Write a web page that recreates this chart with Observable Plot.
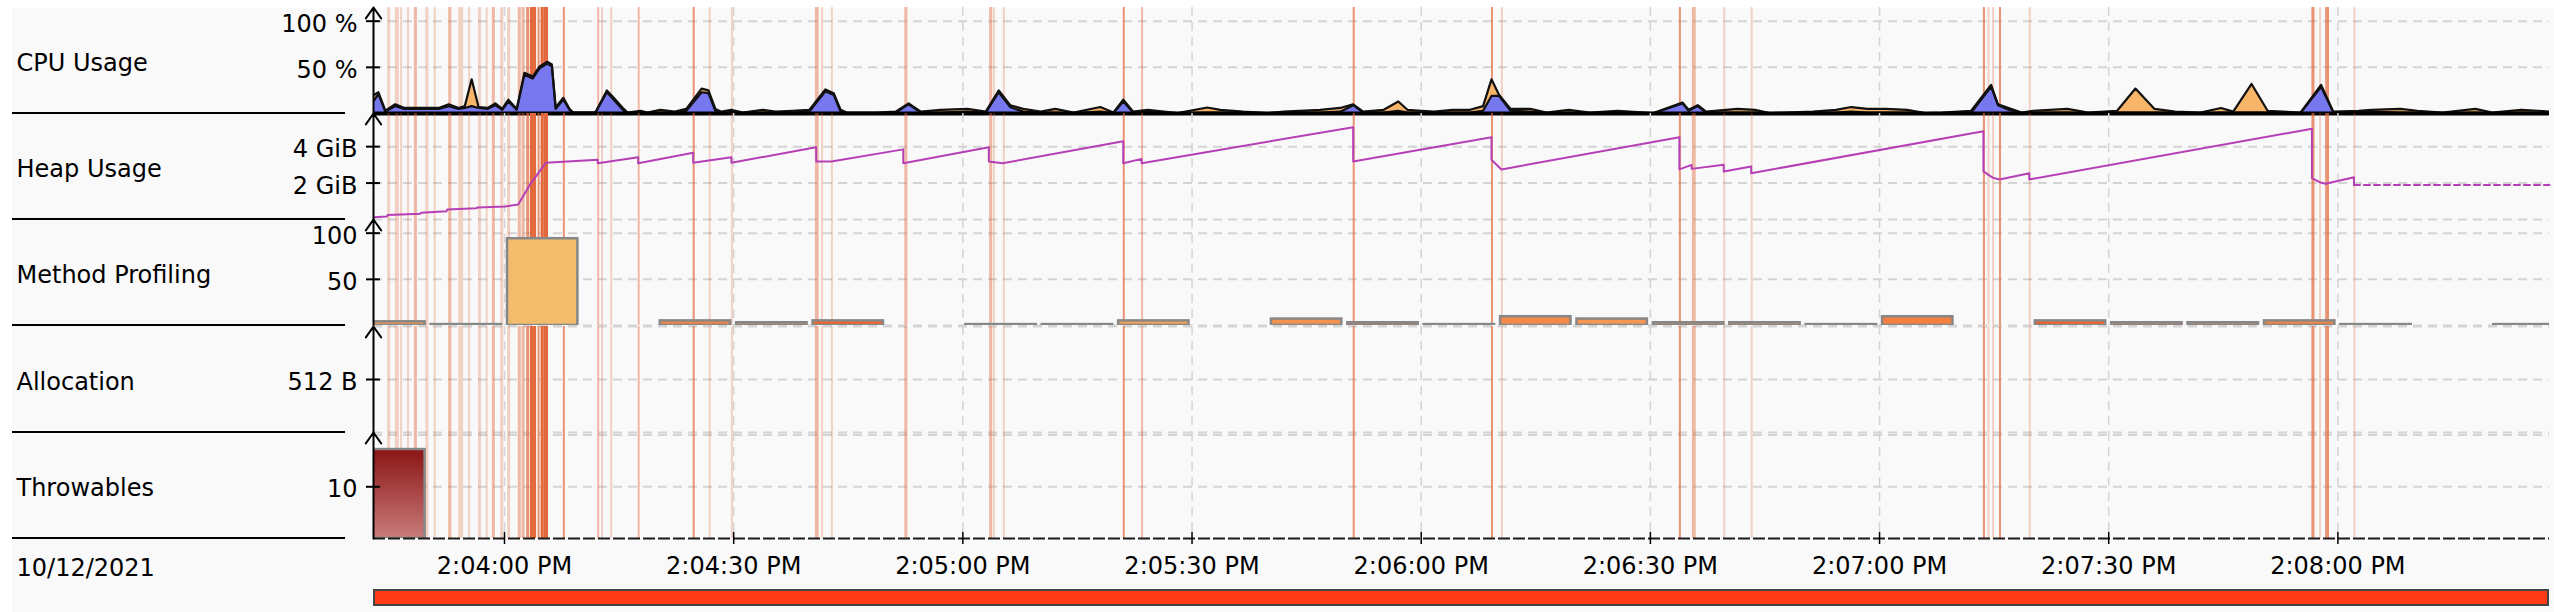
<!DOCTYPE html>
<html>
<head>
<meta charset="utf-8">
<script src="https://cdn.jsdelivr.net/npm/d3@7"></script>
<script src="https://cdn.jsdelivr.net/npm/@observablehq/plot@0.6"></script>
<style>
  html, body { margin: 0; padding: 0; background: #ffffff; }
  #root { position: relative; width: 2554px; height: 612px; overflow: hidden; font-family: "DejaVu Sans", sans-serif; }
  #bg { position: absolute; left: 12px; top: 8px; right: 0; bottom: 0; background: #f9f9f9; }
  .panel { position: absolute; left: 0; }
  .sep { position: absolute; left: 12px; width: 333px; height: 2px; background: #000; }
  #range { position: absolute; left: 373px; top: 589px; width: 2176px; height: 17px; box-sizing: border-box;
           background: #ff3b17; border: 2px solid #454545; }
</style>
</head>
<body>
<div id="root"><div id="bg"></div></div>
<script>
// ---------------- data ----------------
const panelLabels = ["CPU Usage", "Heap Usage", "Method Profiling", "Allocation", "Throwables"];
const dateLabel = "10/12/2021";
// time ticks, seconds after 2:04:00 PM
const tickSeconds = [0, 30, 60, 90, 120, 150, 180, 210, 240];

// CPU usage samples (seconds after 2:04:00 PM, percent)
const cpuSeconds = [
  -17.1, -16.5, -15.6, -14.3, -13.1, -11.0, -8.6, -7.3, -6.0, -5.2,
  -4.3, -3.4, -2.2, -1.2, -0.3, 0.5, 1.6, 2.6, 3.7, 4.6,
  5.6, 6.2, 6.7, 7.7, 8.5, 9.0, 11.9, 13.4, 14.3, 15.6,
  16.1, 17.8, 18.7, 20.4, 22.3, 23.8, 25.8, 26.7, 27.6, 28.4,
  29.7, 31.2, 33.8, 35.5, 37.7, 39.9, 42.0, 43.1, 44.0, 44.8,
  48.8, 51.2, 52.9, 54.5, 57.1, 60.6, 63.0, 64.7, 66.2, 67.9,
  70.2, 72.1, 74.5, 78.0, 79.7, 81.0, 82.3, 84.2, 86.3, 88.1,
  92.0, 93.7, 96.7, 99.9, 102.0, 106.8, 109.4, 111.1, 112.4, 115.1,
  117.0, 118.2, 120.0, 121.7, 124.1, 126.4, 128.1, 129.2, 130.2, 131.7,
  134.3, 136.4, 139.3, 142.1, 145.7, 150.4, 154.2, 155.0, 156.2, 157.3,
  161.4, 163.7, 165.6, 171.3, 174.3, 176.3, 178.4, 180.8, 183.6, 186.0,
  188.2, 192.0, 194.6, 195.5, 196.9, 198.6, 200.1, 204.6, 207.3, 211.1,
  213.5, 216.0, 218.7, 222.0, 224.7, 226.3, 228.7, 230.8, 235.1, 237.8,
  239.4, 242.7, 244.4, 248.2, 250.4, 253.7, 258.0, 260.2, 264.0, 266.2,
  267.7
];
const cpuMachine = [
  20, 23, 3, 10, 6, 6, 6, 10, 6, 8,
  37, 7, 6, 11, 5, 15, 5, 44, 40, 51,
  56, 53, 6.5, 17, 5, 1, 1, 25, 17, 5,
  1, 3, 1, 4, 2, 5, 27, 25, 5, 2,
  4, 1, 4, 2, 3, 4, 26, 22, 4, 1,
  1, 2, 11, 2, 4, 5, 2, 25, 9, 5,
  2, 5, 1, 7, 1, 15, 2, 4, 2, 0.5,
  6.5, 4, 2, 0.5, 2, 4, 6, 10, 2, 4,
  13, 4, 3, 2, 4, 4, 8, 37, 20, 5,
  5, 1, 4, 1, 3, 0.5, 12, 4, 9, 2,
  5, 4, 0.5, 2, 4, 7, 5, 5, 4, 0.5,
  1, 3, 31, 10, 6, 1, 3, 5, 1, 3,
  27, 5, 2, 1, 6, 2, 32, 3, 1, 31,
  2, 3, 4, 5, 3, 1, 5, 1, 4, 3,
  2
];
const cpuJvm = [
  14, 21, 2, 8, 5, 5, 5, 8, 5, 6,
  8, 6, 5, 9, 4, 13, 4, 42, 38, 49,
  54, 51, 5, 15, 4, 1, 1, 23, 15, 3,
  0.5, 1, 0.5, 1, 1, 3, 23, 22, 3, 1,
  2, 0.5, 1, 1, 1, 2, 24, 20, 2, 0.5,
  0.5, 1, 10, 1, 1, 2, 1, 23, 7, 2,
  1, 1, 0.5, 2, 0.5, 13, 1, 3, 1, 0.3,
  1, 1, 1, 0.3, 1, 1, 2, 9, 1, 1,
  3, 1, 1, 1, 1, 1, 3, 19, 19, 3,
  2, 0.5, 1, 0.5, 1, 0.3, 11, 3, 8, 1,
  1, 1, 0.3, 1, 1, 2, 1, 1, 1, 0.3,
  0.5, 1, 29, 9, 4, 0.5, 1, 1, 0.5, 1,
  1, 1, 1, 0.5, 1, 1, 1, 1, 0.5, 29,
  1, 2, 2, 1, 1, 0.5, 1, 0.5, 1, 1,
  1
];

// Heap usage (seconds after 2:04:00 PM, GiB)
const heapSeconds = [
  -17.1, -15.4, -15.3, -11.0, -10.9, -7.6, -7.5, -3.7, -3.5, 0.1,
  1.8, 3.4, 5.4, 12.2, 12.2, 17.5, 17.5, 24.7, 24.7, 29.7,
  29.7, 40.8, 40.8, 42.8, 52.2, 52.2, 63.4, 63.4, 65.2, 81.0,
  81.0, 83.4, 83.4, 111.1, 111.1, 129.2, 129.2, 130.5, 153.8, 153.8,
  155.4, 155.4, 159.6, 159.6, 163.2, 163.2, 193.6, 193.6, 194.8, 195.7,
  199.6, 199.6, 236.6, 236.6, 237.6, 238.4, 242.1, 242.1
];
const heapGiB = [
  0.13, 0.16, 0.25, 0.32, 0.37, 0.45, 0.55, 0.62, 0.66, 0.72,
  0.82, 1.96, 3.11, 3.28, 3.09, 3.42, 3.09, 3.66, 3.11, 3.42,
  3.11, 3.97, 3.19, 3.19, 3.85, 3.09, 3.97, 3.19, 3.09, 4.30,
  3.09, 3.33, 3.09, 5.07, 3.19, 4.52, 3.28, 2.75, 4.52, 2.75,
  3.0, 2.78, 3.0, 2.64, 2.91, 2.54, 4.85, 2.64, 2.3, 2.2,
  2.54, 2.2, 4.98, 2.27, 2.05, 1.96, 2.32, 1.9
];
// last known value, carried forward to end of recording
const heapTailSeconds = [242.1, 267.7];
const heapTailGiB = [1.9, 1.9];

// Method profiling: 10 s bins (bin start seconds), sample counts, hotness (null = idle)
const profBinStart = [-20, -10, 0, 20, 30, 40, 60, 70, 80, 100, 110, 120, 130, 140, 150, 160, 170, 180, 200, 210, 220, 230, 240, 260];
const profSamples  = [4, 1, 94, 5, 3, 5, 1, 1, 5, 7, 3, 1, 9.5, 7, 3, 3, 1, 9.5, 5, 3, 3, 5, 1, 1];
const profHeat     = [0.4, null, 0, 0.6, 0.4, 0.95, null, null, 0.3, 0.45, 0.95, null, 0.55, 0.4, 0.6, 0.4, null, 0.65, 0.95, 0.7, 0.4, 0.6, null, null];

// Throwables: 10 s bins
const throwBinStart = [-20];
const throwCount = [17.2];

// GC / pause events: start (s after 2:04:00 PM), duration (s), overlap count
const gcSeconds = [
  -15.3, -14.3, -13.6, -12.7, -11.8, -10.3, -9.2, -7.3, -6.0, -4.7,
  -3.4, -2.4, -1.6, -0.5, 0.4, 1.8, 2.3, 2.9, 3.4, 3.8,
  4.4, 4.8, 5.2, 5.5, 7.7, 12.2, 12.7, 13.9, 17.5, 24.7,
  26.8, 29.7, 40.7, 41.5, 42.8, 52.4, 63.5, 64.0, 65.3, 81.0,
  83.4, 111.1, 129.2, 130.5, 153.8, 155.5, 159.6, 163.2, 193.6, 194.2,
  194.8, 195.7, 199.6, 236.6, 237.6, 238.4, 242.1
];
const gcDuration = [
  0.4, 0.55, 0.26, 0.26, 0.4, 0.4, 0.26, 0.4, 0.65, 0.26,
  0.4, 0.26, 0.4, 0.4, 0.4, 0.4, 0.4, 0.4, 0.4, 0.4,
  0.26, 0.4, 0.4, 0.26, 0.26, 0.26, 0.26, 0.26, 0.26, 0.26,
  0.26, 0.26, 0.5, 0.26, 0.26, 0.4, 0.4, 0.26, 0.26, 0.26,
  0.26, 0.26, 0.26, 0.26, 0.26, 0.5, 0.26, 0.26, 0.26, 0.26,
  0.26, 0.26, 0.26, 0.4, 0.26, 0.5, 0.26
];
const gcOverlap = [
  1, 1, 1, 1, 2, 1, 1, 2, 1, 1,
  1, 1, 2, 1, 1, 2, 2, 3, 4, 4,
  3, 4, 4, 4, 3, 2, 1, 1, 2, 3,
  1, 1, 2, 1, 1, 2, 2, 1, 1, 3,
  2, 3, 3, 1, 3, 2, 1, 1, 3, 1,
  1, 3, 1, 3, 1, 3, 1
];

// ---------------- drawing ----------------
const T0 = new Date(2021, 9, 12, 14, 4, 0);
const at = s => new Date(T0.getTime() + s * 1000);
const xDomain = [at(-17.15), at(267.7)];
const fmtTime = d3.timeFormat("%-I:%M:%S %p");
const tickDates = tickSeconds.map(at);

const W = 2554, ML = 373, MR = 5, PH = 106;
const FONT = 24;
const TDY = 3;
const GRID = "#d4d4d4";
const overlapOpacity = [0, 0.27, 0.45, 0.7, 1];
const panelTops = [7, 113, 219, 326, 432];

const gc = gcSeconds.map((s, i) => ({x1: at(s), x2: at(s + gcDuration[i]), k: gcOverlap[i]}));
const cpu = cpuSeconds.map((s, i) => ({t: at(s), machine: cpuMachine[i], jvm: cpuJvm[i]}));
const heap = heapSeconds.map((s, i) => ({t: at(s), g: heapGiB[i]}));
const heapTail = heapTailSeconds.map((s, i) => ({t: at(s), g: heapTailGiB[i]}));
const heatColor = d3.interpolateRgb("#f1bd6d", "#f55e2a");
const prof = profBinStart.map((s, i) => ({x1: at(s), x2: at(s + 10), n: profSamples[i], h: profHeat[i]}));
const thr = throwBinStart.map((s, i) => ({x1: at(s), x2: at(s + 10), n: throwCount[i]}));

function panel(idx, {yMax, gridTicks, labelTicks, fmt, marks, marginBottom = 0, after = []}) {
  return Plot.plot({
    width: W, height: PH + marginBottom,
    marginLeft: ML, marginRight: MR, marginTop: 0, marginBottom,
    style: {background: "transparent", fontFamily: "DejaVu Sans", fontSize: FONT + "px", color: "#000", overflow: "visible"},
    x: {type: "time", domain: xDomain, axis: null},
    y: {domain: [0, yMax], axis: null},
    marks: [
      Plot.gridX({ticks: tickDates, stroke: GRID, strokeOpacity: 1, strokeWidth: 1.5, strokeDasharray: "9,6"}),
      Plot.gridY({ticks: gridTicks, stroke: GRID, strokeOpacity: 1, strokeWidth: 2, strokeDasharray: "9,6"}),
      Plot.rect(gc, {x1: "x1", x2: "x2", fill: "#e3683b", fillOpacity: d => overlapOpacity[d.k]}),
      ...marks,
      Plot.arrow([0], {x1: () => xDomain[0], x2: () => xDomain[0], y1: () => 0, y2: () => yMax,
                       stroke: "#000", strokeWidth: 2, headLength: 10, headAngle: 70}),
      Plot.ruleY(labelTicks, {x1: () => xDomain[0], x2: () => at(-16.25), stroke: "#000", strokeWidth: 2}),
      Plot.axisY({ticks: labelTicks, tickFormat: () => "", tickSize: 7, label: null, strokeWidth: 2}),
      Plot.axisY({ticks: labelTicks, tickFormat: fmt, tickSize: 0, tickPadding: 16, label: null,
                  fontSize: FONT, dy: TDY}),
      Plot.text([panelLabels[idx]], {frameAnchor: "left", dx: -357, dy: TDY, textAnchor: "start", fontSize: FONT, fill: "#000"}),
      ...after
    ]
  });
}

const gradDefs = () => {
  const ns = "http://www.w3.org/2000/svg";
  const defs = document.createElementNS(ns, "defs");
  defs.innerHTML = '<linearGradient id="thrGrad" x1="0" y1="0" x2="0" y2="1">' +
    '<stop offset="0" stop-color="#8b1515"/><stop offset="1" stop-color="#c97b7b"/></linearGradient>';
  return defs;
};

const plots = [
  panel(0, {
    yMax: 114.8, gridTicks: [0, 50, 100], labelTicks: [50, 100], fmt: d => d + " %",
    marks: [
      Plot.areaY(cpu, {x: "t", y: "machine", fill: "#f8b469", clip: true}),
      Plot.areaY(cpu, {x: "t", y: "jvm", fill: "#7777ef", clip: true}),
      Plot.lineY(cpu, {x: "t", y: "machine", stroke: "#111", strokeWidth: 2.2, clip: true}),
      Plot.lineY(cpu, {x: "t", y: "jvm", stroke: "#111", strokeWidth: 2.2, clip: true}),
      Plot.ruleY([0], {stroke: "#000", strokeWidth: 4})
    ]
  }),
  panel(1, {
    yMax: 5.82, gridTicks: [0, 2, 4], labelTicks: [2, 4], fmt: d => d + " GiB",
    marks: [
      Plot.line(heap, {x: "t", y: "g", stroke: "#b63fb6", strokeWidth: 2}),
      Plot.line(heapTail, {x: "t", y: "g", stroke: "#b63fb6", strokeWidth: 2, strokeDasharray: "6,4"})
    ]
  }),
  panel(2, {
    yMax: 114.8, gridTicks: [0, 50, 100], labelTicks: [50, 100], fmt: d => String(d),
    marks: [
      Plot.rect(prof, {x1: "x1", x2: "x2", y1: 0, y2: "n", insetLeft: 3, insetRight: 3, clip: true,
                       fill: d => d.h == null ? "#8a8a8a" : heatColor(d.h), stroke: "#878787", strokeWidth: 2.5})
    ]
  }),
  panel(3, {
    yMax: 1024, gridTicks: [0, 512, 1024], labelTicks: [512], fmt: d => d + " B",
    marks: []
  }),
  panel(4, {
    yMax: 20.5, gridTicks: [10, 20], labelTicks: [10], fmt: d => String(d), marginBottom: 74,
    marks: [
      gradDefs,
      Plot.rect(thr, {x1: "x1", x2: "x2", y1: 0, y2: "n", insetRight: 3, clip: true,
                      fill: "url(#thrGrad)", stroke: "#878787", strokeWidth: 2.5}),
      Plot.ruleY([0], {stroke: "#1a1a1a", strokeWidth: 2, strokeDasharray: "12,3"})
    ],
    after: [
      Plot.ruleX(tickDates, {y1: 0, y2: 1.2, stroke: "#000", strokeWidth: 1.5}),
      Plot.axisX({ticks: tickDates, tickFormat: fmtTime, tickSize: 6, tickPadding: 12, label: null,
                  fontSize: FONT, strokeWidth: 1.5}),
      Plot.text([dateLabel], {frameAnchor: "bottom-left", dx: -357, dy: 30, textAnchor: "start",
                              lineAnchor: "middle", fontSize: FONT, fill: "#000"})
    ]
  })
];

const root = document.getElementById("root");
plots.forEach((svg, i) => {
  const div = document.createElement("div");
  div.className = "panel";
  div.style.top = panelTops[i] + "px";
  div.appendChild(svg);
  root.appendChild(div);
  const sep = document.createElement("div");
  sep.className = "sep";
  sep.style.top = (panelTops[i] + PH - 1) + "px";
  root.appendChild(sep);
});
const range = document.createElement("div");
range.id = "range";
root.appendChild(range);
</script>
</body>
</html>
